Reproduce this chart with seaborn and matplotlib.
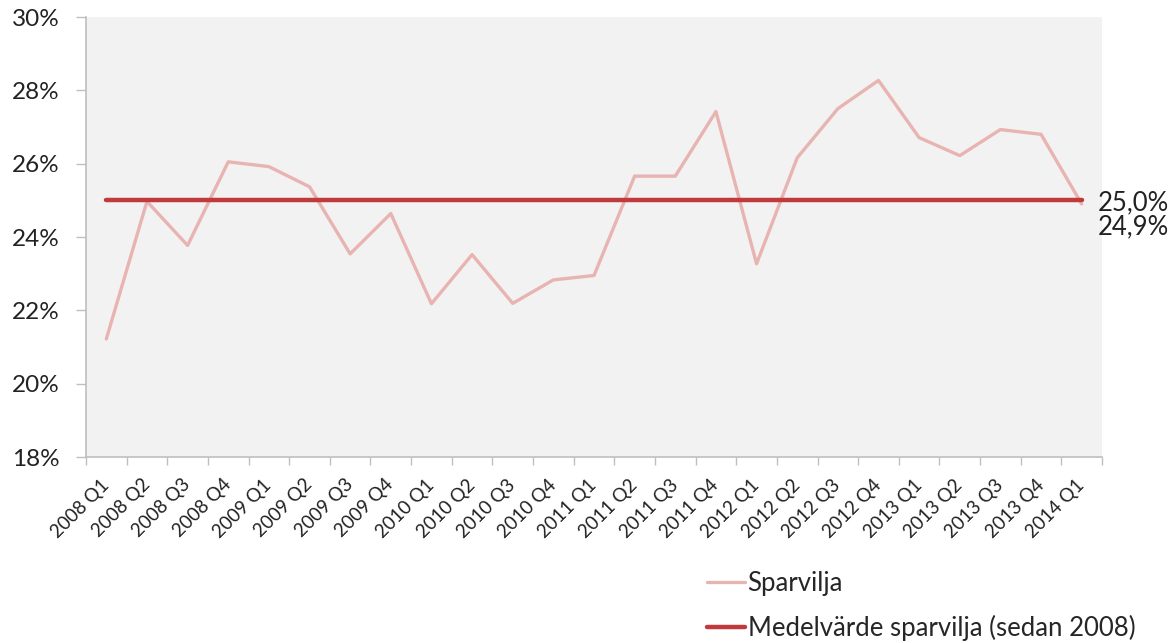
import matplotlib
matplotlib.use("Agg")
import matplotlib.pyplot as plt
import matplotlib.transforms as mtransforms
from matplotlib.ticker import FixedLocator, PercentFormatter
import seaborn as sns
import pandas as pd
import numpy as np

quarters = ["2008 Q1", "2008 Q2", "2008 Q3", "2008 Q4",
            "2009 Q1", "2009 Q2", "2009 Q3", "2009 Q4",
            "2010 Q1", "2010 Q2", "2010 Q3", "2010 Q4",
            "2011 Q1", "2011 Q2", "2011 Q3", "2011 Q4",
            "2012 Q1", "2012 Q2", "2012 Q3", "2012 Q4",
            "2013 Q1", "2013 Q2", "2013 Q3", "2013 Q4",
            "2014 Q1"]
sparvilja = [21.22, 24.97, 23.77, 26.05, 25.92, 25.37, 23.54, 24.64,
             22.18, 23.52, 22.19, 22.83, 22.95, 25.66, 25.66, 27.42,
             23.27, 26.16, 27.50, 28.27, 26.71, 26.22, 26.93, 26.80,
             24.90]
medelvarde = [25.0, 25.0, 25.0, 25.0, 25.0, 25.0, 25.0, 25.0,
              25.0, 25.0, 25.0, 25.0, 25.0, 25.0, 25.0, 25.0,
              25.0, 25.0, 25.0, 25.0, 25.0, 25.0, 25.0, 25.0,
              25.0]
series_names = ["Sparvilja", "Medelvärde sparvilja (sedan 2008)"]
end_labels = ["25,0%", "24,9%"]
y_ticks = [18, 20, 22, 24, 26, 28, 30]

sns.set_theme(style="white")
plt.rcParams["font.family"] = ["Lato", "DejaVu Sans"]

df = pd.DataFrame({"x": np.arange(len(quarters)),
                   "Sparvilja": sparvilja,
                   "Medel": medelvarde})

fig = plt.figure(figsize=(11.71, 6.43), dpi=100)
ax = fig.add_axes([86/1171, 1-457/643, (1102-86)/1171, (457-17)/643])
ax.set_facecolor("#F2F2F2")

c_light = "#E8B4B2"
c_dark = "#C0393B"
sns.lineplot(data=df, x="x", y="Sparvilja", ax=ax, color=c_light, lw=2.4,
             label=series_names[0])
sns.lineplot(data=df, x="x", y="Medel", ax=ax, color=c_dark, lw=3.2,
             label=series_names[1])

ax.set_xlim(-0.5, len(quarters) - 0.5)
ax.set_ylim(18, 30)
ax.set_yticks(y_ticks)
ax.yaxis.set_major_formatter(PercentFormatter(decimals=0))
ax.set_xticks(np.arange(len(quarters)))
ax.set_xticklabels(quarters, rotation=45, ha="right", va="center",
                   rotation_mode="anchor", fontsize=13.5)
shift = mtransforms.ScaledTranslation(5/100, 0, fig.dpi_scale_trans)
for lab in ax.get_xticklabels():
    lab.set_transform(lab.get_transform() + shift)
    lab.set_color("#222222")
ax.xaxis.set_minor_locator(FixedLocator(np.arange(len(quarters) + 1) - 0.5))
ax.tick_params(axis="x", which="major", length=0, pad=18)
ax.tick_params(axis="x", which="minor", length=6, color="#BFBFBF", width=1,
               bottom=True)
ax.tick_params(axis="y", length=7, color="#BFBFBF", width=1, left=True,
               labelsize=17.5, pad=12)
for lab in ax.get_yticklabels():
    lab.set_color("#222222")
ax.set_xlabel("")
ax.set_ylabel("")
for s in ["top", "right"]:
    ax.spines[s].set_visible(False)
for s in ["left", "bottom"]:
    ax.spines[s].set_color("#BFBFBF")
    ax.spines[s].set_linewidth(1.2)

last = len(quarters) - 1
ax.annotate(end_labels[0], xy=(last, medelvarde[-1]), xytext=(16, -2),
            textcoords="offset pixels", ha="left", va="center",
            fontsize=18.5, color="#222222", annotation_clip=False)
ax.annotate(end_labels[1], xy=(last, sparvilja[-1]), xytext=(16, -23),
            textcoords="offset pixels", ha="left", va="center",
            fontsize=18.5, color="#222222", annotation_clip=False)

ax.legend_.remove()
handles, labels = ax.get_legend_handles_labels()
fig.legend(handles, labels, loc="upper left",
           bbox_to_anchor=(697/1171, 1-561/643), frameon=False,
           fontsize=18.5, handlelength=1.45, handletextpad=0.12,
           labelspacing=0.72, borderaxespad=0)

fig.savefig("out.png", dpi=100)
